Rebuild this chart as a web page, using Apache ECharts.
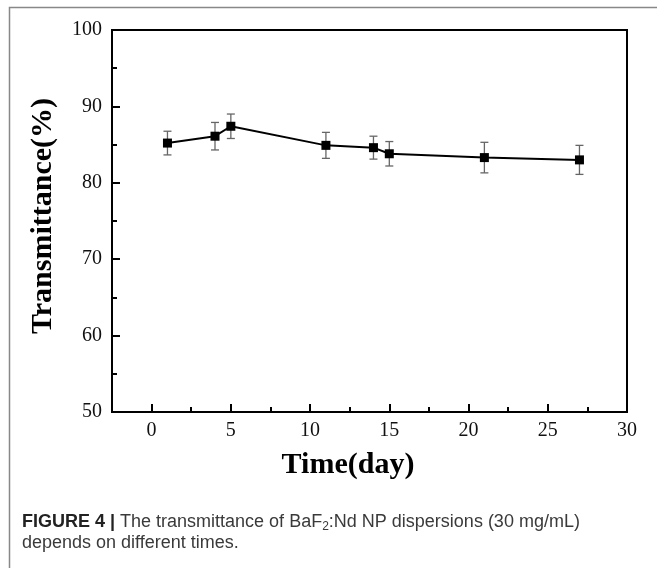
<!DOCTYPE html>
<html>
<head>
<meta charset="utf-8">
<script src="https://cdn.jsdelivr.net/npm/echarts@6/dist/echarts.min.js"></script>
<style>
  html, body { margin: 0; padding: 0; background: #fff; }
  #chart { width: 657px; height: 568px; }
</style>
</head>
<body>
<div id="chart"></div>
<script>
// values
const days = [1, 4, 5, 11, 14, 15, 21, 27];
const transmittance = [85.2, 86.1, 87.4, 84.9, 84.6, 83.8, 83.3, 83.0];
const errors = [1.55, 1.8, 1.6, 1.7, 1.5, 1.6, 2.0, 1.9];

const xMajorTicks = [0, 5, 10, 15, 20, 25, 30];
const xMinorTicks = [2.5, 7.5, 12.5, 17.5, 22.5, 27.5];

const serif = '"Liberation Serif", "Times New Roman", serif';
const sans = '"Liberation Sans", Arial, sans-serif';

const chart = echarts.init(document.getElementById('chart'));

const points = days.map((d, i) => [d, transmittance[i]]);
const errData = days.map((d, i) => [d, transmittance[i] - errors[i], transmittance[i] + errors[i]]);

const option = {
  animation: false,
  backgroundColor: '#fff',
  grid: {
    left: 112, right: 30, top: 30, bottom: 156,
    show: true, borderColor: '#000', borderWidth: 2, backgroundColor: 'transparent'
  },
  xAxis: [
    {
      type: 'value', min: -2.5, max: 30,
      name: 'Time(day)', nameLocation: 'middle', nameGap: 38,
      nameTextStyle: { fontFamily: serif, fontWeight: 'bold', fontSize: 30, color: '#000', padding: [0, 43, 0, 0] },
      axisLine: { show: true, onZero: false, lineStyle: { color: '#000', width: 2 } },
      axisTick: { show: true, inside: true, length: 8, customValues: xMajorTicks, lineStyle: { color: '#000', width: 2 } },
      axisLabel: { customValues: xMajorTicks, margin: 9, fontFamily: serif, fontSize: 20, color: '#111' },
      splitLine: { show: false }
    },
    {
      type: 'value', min: -2.5, max: 30, position: 'bottom',
      axisLine: { show: false },
      axisTick: { show: true, inside: true, length: 5, customValues: xMinorTicks, lineStyle: { color: '#000', width: 2 } },
      axisLabel: { show: false },
      splitLine: { show: false }
    }
  ],
  yAxis: {
    type: 'value', min: 50, max: 100, interval: 10,
    name: 'Transmittance(%)', nameLocation: 'middle', nameGap: 54,
    nameTextStyle: { fontFamily: serif, fontWeight: 'bold', fontSize: 30, color: '#000', padding: [0, 0, 0, 10] },
    axisLine: { show: true, onZero: false, lineStyle: { color: '#000', width: 2 } },
    axisTick: { show: true, inside: true, length: 8, lineStyle: { color: '#000', width: 2 } },
    minorTick: { show: true, splitNumber: 2, length: 5, lineStyle: { color: '#000', width: 2 } },
    axisLabel: { margin: 10, fontFamily: serif, fontSize: 20, color: '#111' },
    splitLine: { show: false }
  },
  series: [
    {
      type: 'custom',
      xAxisIndex: 0,
      z: 1,
      data: errData,
      renderItem: (params, api) => {
        const x = api.value(0);
        const lo = api.coord([x, api.value(1)]);
        const hi = api.coord([x, api.value(2)]);
        const cap = 4;
        const style = { stroke: '#666', lineWidth: 1.3 };
        return {
          type: 'group',
          children: [
            { type: 'line', shape: { x1: lo[0], y1: lo[1], x2: hi[0], y2: hi[1] }, style },
            { type: 'line', shape: { x1: lo[0] - cap, y1: lo[1], x2: lo[0] + cap, y2: lo[1] }, style },
            { type: 'line', shape: { x1: hi[0] - cap, y1: hi[1], x2: hi[0] + cap, y2: hi[1] }, style }
          ]
        };
      }
    },
    {
      type: 'line',
      xAxisIndex: 0,
      z: 3,
      data: points,
      symbol: 'rect',
      symbolSize: 9,
      itemStyle: { color: '#000' },
      lineStyle: { color: '#000', width: 2 }
    }
  ],
  graphic: [
    {
      type: 'rect', left: 7, top: 5, silent: true,
      shape: { width: 700, height: 700 },
      style: { fill: 'none', stroke: '#888', lineWidth: 1.5 }
    },
    {
      type: 'text', left: 22, top: 512,
      style: {
        text: '{b|FIGURE 4 |} The transmittance of BaF{s|2}:Nd NP dispersions (30 mg/mL)\ndepends on different times.',
        fontFamily: sans,
        fontSize: 18, lineHeight: 21, fill: '#3a3a3a',
        rich: {
          b: { fontWeight: 'bold', fontSize: 18, fill: '#222', fontFamily: sans },
          s: { fontSize: 12, verticalAlign: 'bottom', lineHeight: 17, fill: '#3a3a3a', fontFamily: sans }
        }
      }
    }
  ]
};

chart.setOption(option);
</script>
</body>
</html>
